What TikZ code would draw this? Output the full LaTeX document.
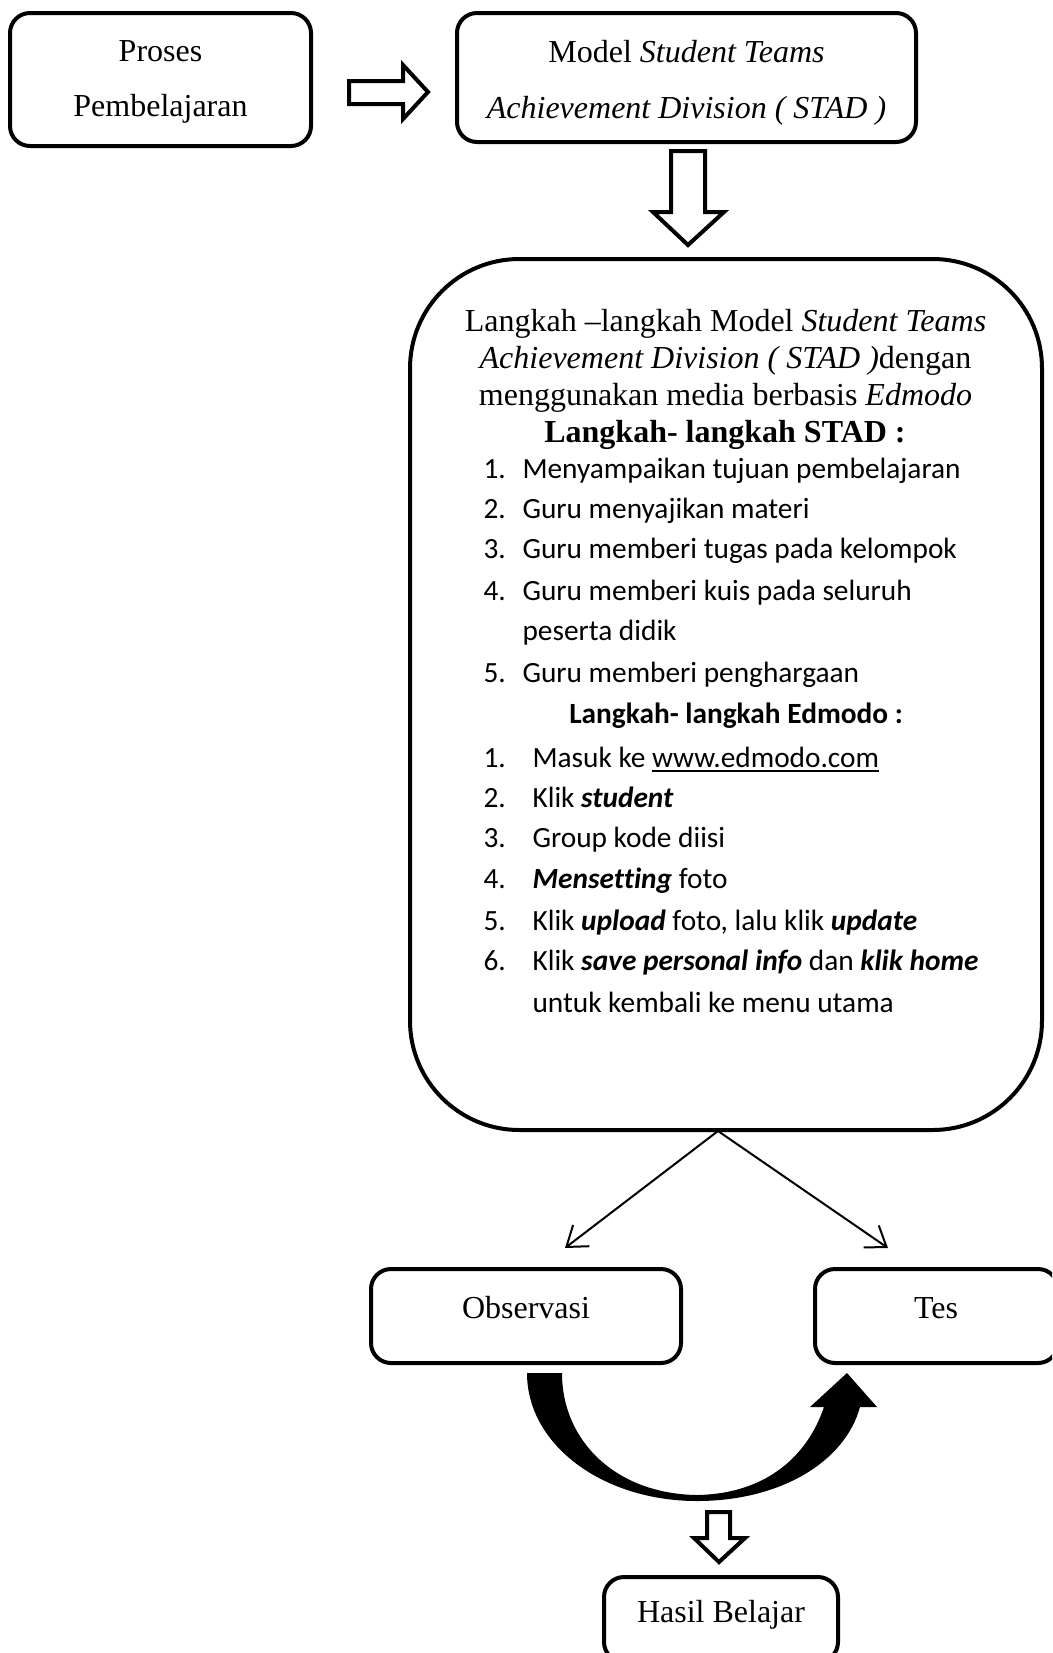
\documentclass[tikz,border=0pt]{standalone}
\usepackage{fontspec}
\setmainfont{Liberation Serif}[ItalicFont={Liberation Serif Italic}, BoldFont={Liberation Serif Bold}, BoldItalicFont={Liberation Serif Bold Italic}]
\newfontfamily\calib{Carlito}[Ligatures=NoCommon]
\usetikzlibrary{arrows.meta,fit}
\begin{document}
\begin{tikzpicture}[x=0.375pt,y=-0.375pt,
  box/.style={draw, line width=1.5pt, rounded corners=7.5pt, inner sep=0pt},
  bigbox/.style={draw, line width=1.5pt, rounded corners=41pt, inner sep=0pt},
  serif/.style={font=\fontsize{12}{14}\selectfont, inner sep=0pt, anchor=base},
  calline/.style={font=\calib\fontsize{11}{13}\selectfont, inner sep=0pt, anchor=base west},
  calhead/.style={font=\calib\bfseries\fontsize{11}{13}\selectfont, inner sep=0pt, anchor=base},
  hollow/.style={draw, line width=1.5pt, fill=white, line join=miter},
  thinarr/.style={line width=0.75pt, -{Straight Barb[length=7pt,width=10pt,line width=0.75pt]}}]
\useasboundingbox (0,0) rectangle (1052,1653);
\clip (0,0) rectangle (1052,1653);

% top boxes
\node[box, fit={(10,13) (311,146)}] (proses) {};
\node[serif] (proses1) at (160.5,61) {Proses};
\node[serif] (proses2) at (160.5,116) {Pembelajaran};

\node[box, fit={(457,13) (916,142)}] (model) {};
\node[serif] (model1) at (686.5,62) {Model \textit{Student Teams}};
\node[serif] (model2) at (686.5,118) {\textit{Achievement Division ( STAD )}};

% hollow block arrows
\draw[hollow] (349,81) -- (403,81) -- (403,65) -- (428,92) -- (403,119) -- (403,104) -- (349,104) -- cycle;
\draw[hollow] (671,151) -- (705,151) -- (705,212) -- (724,212) -- (688,245) -- (653,212) -- (671,212) -- cycle;

% big box
\node[bigbox, fit={(410,259) (1042,1130)}] (langkah) {};
\node[serif] (t1) at (725.5,331) {Langkah –langkah Model \textit{Student Teams}};
\node[serif] (t2) at (725.5,368) {\textit{Achievement Division ( STAD )}dengan};
\node[serif] (t3) at (725.5,405) {menggunakan media berbasis \textit{Edmodo}};
\node[serif, font=\bfseries\fontsize{12}{14}\selectfont] (h1) at (725,442) {Langkah- langkah STAD :};

\node[calline] (s1n) at (483,478) {1.};
\node[calline] (s1) at (522,478) {Menyampaikan tujuan pembelajaran};
\node[calline] (s2n) at (483,518) {2.};
\node[calline] (s2) at (522,518) {Guru menyajikan materi};
\node[calline] (s3n) at (483,558) {3.};
\node[calline] (s3) at (522,558) {Guru memberi tugas pada kelompok};
\node[calline] (s4n) at (483,600) {4.};
\node[calline] (s4) at (522,600) {Guru memberi kuis pada seluruh};
\node[calline] (s4b) at (522,640) {peserta didik};
\node[calline] (s5n) at (483,682) {5.};
\node[calline] (s5) at (522,682) {Guru memberi penghargaan};

\node[calhead] (h2) at (736,723) {Langkah- langkah Edmodo :};

\node[calline] (e1n) at (483,767) {1.};
\node[calline] (e1) at (532,767) {Masuk ke \underline{www.edmodo.com}};
\node[calline] (e2n) at (483,807) {2.};
\node[calline] (e2) at (532,807) {Klik \textbf{\textit{student}}};
\node[calline] (e3n) at (483,847) {3.};
\node[calline] (e3) at (532,847) {Group kode diisi};
\node[calline] (e4n) at (483,888) {4.};
\node[calline] (e4) at (532,888) {\textbf{\textit{Mensetting}} foto};
\node[calline] (e5n) at (483,930) {5.};
\node[calline] (e5) at (532,930) {Klik \textbf{\textit{upload}} foto, lalu klik \textbf{\textit{update}}};
\node[calline] (e6n) at (483,970) {6.};
\node[calline] (e6) at (532,970) {Klik \textbf{\textit{save personal info}} dan \textbf{\textit{klik home}}};
\node[calline] (e6b) at (532,1012) {untuk kembali ke menu utama};

% split arrows
\coordinate (split) at (718,1131);
\coordinate (obsTip) at (565,1248);
\coordinate (tesTip) at (888,1248);
\draw[thinarr] (split) -- (obsTip);
\draw[thinarr] (split) -- (tesTip);

% observation / test boxes
\node[box, fit={(371,1269) (681,1363)}] (obs) {};
\node[serif] (obsT) at (526,1318) {Observasi};
\node[box, fit={(815,1269) (1058,1363)}] (tes) {};
\node[serif] (tesT) at (936,1318) {Tes};

% curved thick arrow
\fill[black] (527,1373) .. controls (527,1445) and (603,1501) .. (697,1501)
  .. controls (780,1501) and (845,1462) .. (860,1407)
  -- (877,1407) -- (847,1373) -- (810,1407) -- (824,1407)
  .. controls (806,1460) and (762,1494) .. (697,1495)
  .. controls (617,1494) and (562,1442) .. (562,1373) -- cycle;

% small down arrow
\draw[hollow] (707,1512) -- (730,1512) -- (730,1538) -- (745,1538) -- (719,1562) -- (694,1538) -- (707,1538) -- cycle;

% result box
\node[box, fit={(604,1577) (838,1662)}] (hasil) {};
\node[serif] (hasilT) at (721,1622) {Hasil Belajar};
\end{tikzpicture}
\end{document}
